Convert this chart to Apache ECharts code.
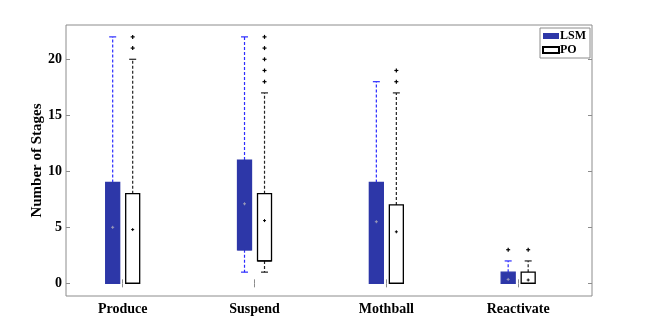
<!DOCTYPE html>
<html>
<head>
<meta charset="utf-8">
<script src="https://cdn.jsdelivr.net/npm/echarts@6/dist/echarts.min.js"></script>
<style>
  html, body { margin: 0; padding: 0; background: #fff; }
  #chart { width: 658px; height: 333px; }
</style>
</head>
<body>
<div id="chart"></div>
<script>
var categories = ['Produce', 'Suspend', 'Mothball', 'Reactivate'];
var yTicks = [0, 5, 10, 15, 20];
// [min, q1, median, q3, max]
var lsmBoxes = [[0, 0, 0, 9, 22], [1, 3, 3, 11, 22], [0, 0, 0, 9, 18], [0, 0, 0, 1, 2]];
var poBoxes = [[0, 0, 0, 8, 20], [1, 2, 2, 8, 17], [0, 0, 0, 7, 17], [0, 0, 0, 1, 2]];
var lsmMeans = [5.0, 7.1, 5.5, 0.35];
var poMeans = [4.8, 5.6, 4.6, 0.3];
var lsmOutliers = [[], [], [], [3]];
var poOutliers = [[21, 22], [18, 19, 20, 21, 22], [18, 19], [3]];

var SERIF = '"Liberation Serif", "Times New Roman", serif';
var FRAME = '#8c8c8c';
var LSM_FILL = '#2d37a8';
var LSM_WHISKER = '#2b2bff';

var chart = echarts.init(document.getElementById('chart'));

function boxData(boxes) {
  return boxes.map(function (b, i) { return [i + 1].concat(b); });
}
function pointData(lists) {
  var out = [];
  lists.forEach(function (l, i) {
    if (Array.isArray(l)) l.forEach(function (v) { out.push([i + 1, v]); });
    else out.push([i + 1, l]);
  });
  return out;
}

// box + dashed whiskers, shifted dx pixels from the category tick
function boxRenderer(dx, fill, stroke, whisker, medianColor) {
  return function (params, api) {
    var cx = api.coord([api.value(0), 0])[0] + dx;
    var yLo = api.coord([0, api.value(1)])[1];
    var yQ1 = api.coord([0, api.value(2)])[1];
    var yMed = api.coord([0, api.value(3)])[1];
    var yQ3 = api.coord([0, api.value(4)])[1];
    var yHi = api.coord([0, api.value(5)])[1];
    var hw = 7, cw = 3.5;
    var dash = { stroke: whisker, lineWidth: 1.2, lineDash: [3, 2] };
    var cap = { stroke: whisker, lineWidth: 1.2 };
    var kids = [];
    kids.push({ type: 'line', shape: { x1: cx, y1: yQ3, x2: cx, y2: yHi }, style: dash });
    kids.push({ type: 'line', shape: { x1: cx - cw, y1: yHi, x2: cx + cw, y2: yHi }, style: cap });
    if (yLo > yQ1 + 0.5) {
      kids.push({ type: 'line', shape: { x1: cx, y1: yQ1, x2: cx, y2: yLo }, style: dash });
      kids.push({ type: 'line', shape: { x1: cx - cw, y1: yLo, x2: cx + cw, y2: yLo }, style: cap });
    }
    kids.push({ type: 'rect', shape: { x: cx - hw, y: yQ3, width: hw * 2, height: yQ1 - yQ3 },
      style: { fill: fill, stroke: stroke, lineWidth: 1.3 } });
    kids.push({ type: 'line', shape: { x1: cx - hw, y1: yMed, x2: cx + hw, y2: yMed },
      style: { stroke: medianColor, lineWidth: 1.3 } });
    return { type: 'group', children: kids };
  };
}

function plusRenderer(dx, size, color, width) {
  return function (params, api) {
    var p = api.coord([api.value(0), api.value(1)]);
    var x = p[0] + dx, y = p[1];
    return { type: 'group', children: [
      { type: 'line', shape: { x1: x - size, y1: y, x2: x + size, y2: y }, style: { stroke: color, lineWidth: width } },
      { type: 'line', shape: { x1: x, y1: y - size, x2: x, y2: y + size }, style: { stroke: color, lineWidth: width } }
    ] };
  };
}

var catTicks = categories.map(function (c, i) { return i + 1; });

chart.setOption({
  backgroundColor: '#fff',
  animation: false,
  grid: {
    left: 66, right: 66, top: 25, bottom: 37,
    show: true, borderColor: FRAME, borderWidth: 1
  },
  legend: {
    orient: 'vertical',
    left: 540, top: 28,
    padding: [2, 4, 2, 2],
    itemWidth: 16, itemHeight: 6, itemGap: 2,
    backgroundColor: '#fff', borderColor: FRAME, borderWidth: 1, borderRadius: 0,
    textStyle: { fontFamily: SERIF, fontWeight: 'bold', fontSize: 12, lineHeight: 10, color: '#000', padding: [0, 0, 0, -4] },
    data: [
      { name: 'LSM', icon: 'rect', itemStyle: { color: LSM_FILL, borderWidth: 0 } },
      { name: 'PO', icon: 'rect', itemStyle: { color: '#fff', borderColor: '#000', borderWidth: 2 } }
    ]
  },
  xAxis: [{
    type: 'value', min: 0.57, max: 4.56, position: 'bottom',
    axisLine: { show: false }, splitLine: { show: false },
    axisTick: { inside: true, length: 4, customValues: catTicks, lineStyle: { color: FRAME } },
    axisLabel: {
      customValues: catTicks, margin: 6,
      formatter: function (v) { return categories[Math.round(v) - 1]; },
      fontFamily: SERIF, fontWeight: 'bold', fontSize: 14, color: '#000'
    }
  }, {
    type: 'value', min: 0.57, max: 4.56, position: 'top',
    axisLine: { show: false }, splitLine: { show: false },
    axisTick: { inside: true, length: 4, customValues: catTicks, lineStyle: { color: FRAME } },
    axisLabel: { show: false }
  }],
  yAxis: [{
    type: 'value', min: -1.13, max: 23.06, position: 'left',
    name: 'Number of Stages', nameLocation: 'middle', nameGap: 21, nameMoveOverlap: false,
    nameTextStyle: { fontFamily: SERIF, fontWeight: 'bold', fontSize: 15, color: '#000' },
    axisLine: { show: false }, splitLine: { show: false },
    axisTick: { inside: true, length: 4, customValues: yTicks, lineStyle: { color: FRAME } },
    axisLabel: {
      customValues: yTicks, margin: 4,
      fontFamily: SERIF, fontWeight: 'bold', fontSize: 14, color: '#000'
    }
  }, {
    type: 'value', min: -1.13, max: 23.06, position: 'right',
    axisLine: { show: false }, splitLine: { show: false },
    axisTick: { inside: true, length: 4, customValues: yTicks, lineStyle: { color: FRAME } },
    axisLabel: { show: false }
  }],
  series: [{
    name: 'LSM', type: 'custom',
    renderItem: boxRenderer(-10, LSM_FILL, LSM_FILL, LSM_WHISKER, LSM_FILL),
    encode: { x: 0, y: [1, 2, 3, 4, 5] },
    itemStyle: { color: LSM_FILL },
    data: boxData(lsmBoxes), z: 2
  }, {
    name: 'PO', type: 'custom',
    renderItem: boxRenderer(10, '#fff', '#000', '#222', '#000'),
    encode: { x: 0, y: [1, 2, 3, 4, 5] },
    itemStyle: { color: '#fff', borderColor: '#000' },
    data: boxData(poBoxes), z: 2
  }, {
    name: 'LSM mean', type: 'custom',
    renderItem: plusRenderer(-10, 1.5, '#9a9ab8', 1),
    encode: { x: 0, y: 1 }, data: pointData(lsmMeans), z: 3
  }, {
    name: 'PO mean', type: 'custom',
    renderItem: plusRenderer(10, 1.5, '#000', 1),
    encode: { x: 0, y: 1 }, data: pointData(poMeans), z: 3
  }, {
    name: 'LSM outliers', type: 'custom',
    renderItem: plusRenderer(-10, 2, '#000', 1.2),
    encode: { x: 0, y: 1 }, data: pointData(lsmOutliers), z: 3
  }, {
    name: 'PO outliers', type: 'custom',
    renderItem: plusRenderer(10, 2, '#000', 1.2),
    encode: { x: 0, y: 1 }, data: pointData(poOutliers), z: 3
  }]
});
</script>
</body>
</html>
